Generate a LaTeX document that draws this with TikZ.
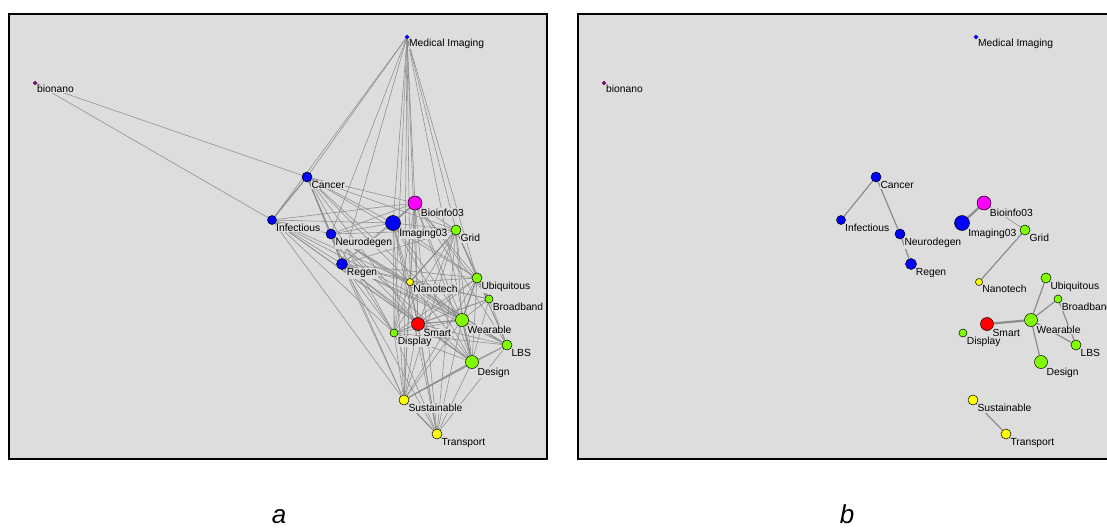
\documentclass[tikz,border=0pt]{standalone}
\usepackage{fontspec}
\setmainfont{Liberation Sans}
\usetikzlibrary{shapes.geometric,backgrounds}
\definecolor{panelgray}{RGB}{221,221,221}
\definecolor{edgegray}{RGB}{140,140,140}
\definecolor{netblue}{RGB}{0,0,255}
\definecolor{netgreen}{RGB}{128,255,0}
\definecolor{netyellow}{RGB}{255,255,0}
\definecolor{netred}{RGB}{255,0,0}
\definecolor{netpink}{RGB}{255,0,255}
\definecolor{netpurple}{RGB}{150,0,150}

\tikzset{
  vertex/.style={circle, draw=black, line width=0.5pt, inner sep=0pt, label distance=-1pt},
  lbl/.style={font=\fontsize{10.3}{11}\selectfont, inner sep=0.6pt, fill=panelgray},
  link/.style={edgegray, line width=0.55pt},
  midlink/.style={edgegray, line width=1.2pt},
  heavylink/.style={edgegray, line width=2.2pt},
  frame/.style={line width=2.2pt},
  caption/.style={font=\fontsize{26}{28}\itshape\selectfont, anchor=base, inner sep=0pt},
}

\newcommand\netnodes[1]{%
  \node[diamond, fill=netblue, inner sep=0pt, minimum size=5pt, label distance=-1pt,
    label={[lbl]-45:Medical Imaging}] (#1medimg) at (407,37) {};
  \node[vertex, fill=netpurple, draw=netpurple!60!black, minimum size=3.5pt,
    label={[lbl]-45:bionano}] (#1bionano) at (35,83) {};
  \foreach \nm/\x/\y/\r/\c/\t in {
      cancer/307/177/5/netblue/Cancer, infect/272/220/4.5/netblue/Infectious,
      neuro/331/234/5/netblue/Neurodegen, regen/342/264/5.5/netblue/Regen,
      imaging/393/223/7.5/netblue/Imaging03, bioinfo/415/203/7/netpink/Bioinfo03,
      grid/456/230/5/netgreen/Grid, nano/410/282/3.5/netyellow/Nanotech,
      ubiq/477/278/5/netgreen/Ubiquitous, broad/489/299/4/netgreen/Broadband,
      smart/418/324/6.5/netred/Smart, wear/462/320/6.5/netgreen/Wearable,
      display/394/333/4/netgreen/Display, lbs/507/345/5/netgreen/LBS,
      design/472/362/6.5/netgreen/Design, sustain/404/400/5/netyellow/Sustainable,
      transport/437/434/5/netyellow/Transport}
    \node[vertex, fill=\c, minimum size=2*\r*1pt, label={[lbl]-45:\t}] (#1\nm) at (\x,\y) {};
}

\begin{document}
\begin{tikzpicture}[x=1pt, y=-1pt]
\useasboundingbox (0,0) rectangle (1107,527);

\netnodes{a}
\begin{scope}[xshift=569]
  \netnodes{b}
\end{scope}

\begin{scope}[on background layer]
  \fill[panelgray] (9,14) rectangle (547,459);
  \fill[panelgray] (578,14) rectangle (1116,459);

  \foreach \s/\e in {medimg/cancer, medimg/infect, medimg/neuro, medimg/regen,
      medimg/imaging, medimg/bioinfo, medimg/nano, medimg/smart, medimg/display,
      medimg/sustain, medimg/grid, medimg/ubiq, medimg/design,
      bionano/cancer, bionano/infect,
      cancer/regen, cancer/imaging, cancer/bioinfo, cancer/grid, cancer/nano,
      cancer/smart, cancer/wear, cancer/display, cancer/ubiq,
      infect/neuro, infect/regen, infect/imaging, infect/bioinfo, infect/smart,
      infect/display, infect/sustain, infect/wear, infect/design, infect/nano,
      neuro/imaging, neuro/bioinfo, neuro/grid, neuro/nano, neuro/smart,
      neuro/display, neuro/wear, neuro/design, neuro/lbs, neuro/sustain,
      regen/imaging, regen/bioinfo, regen/grid, regen/nano, regen/smart,
      regen/wear, regen/design, regen/ubiq, regen/broad, regen/lbs,
      regen/sustain, regen/transport, regen/display,
      imaging/grid, imaging/nano, imaging/smart, imaging/display,
      imaging/sustain, imaging/transport, imaging/wear, imaging/design, imaging/ubiq,
      bioinfo/grid, bioinfo/nano, bioinfo/smart, bioinfo/display, bioinfo/sustain,
      bioinfo/transport, bioinfo/wear, bioinfo/design, bioinfo/ubiq,
      bioinfo/broad, bioinfo/lbs,
      grid/ubiq, grid/broad, grid/smart, grid/wear, grid/design, grid/lbs,
      grid/display, grid/sustain, grid/transport,
      nano/ubiq, nano/broad, nano/smart, nano/wear, nano/design, nano/display,
      nano/sustain, nano/transport, nano/lbs,
      ubiq/broad, ubiq/smart, ubiq/lbs, ubiq/design, ubiq/display, ubiq/sustain,
      broad/wear, broad/lbs, broad/design, broad/smart, broad/display,
      smart/display, smart/design, smart/lbs, smart/sustain, smart/transport,
      wear/lbs, wear/display, wear/sustain, wear/transport,
      display/design, display/sustain, display/transport, display/lbs,
      lbs/design, lbs/sustain, lbs/transport, design/transport}
    \draw[link] (a\s) -- (a\e);

  \foreach \s/\e in {cancer/infect, cancer/neuro, neuro/regen, imaging/bioinfo,
      grid/nano, smart/wear, wear/design, wear/ubiq, design/sustain,
      sustain/transport}
    \draw[midlink] (a\s) -- (a\e);

  \draw[link] (bbioinfo) -- (bgrid);
  \foreach \s/\e in {infect/cancer, cancer/neuro, neuro/regen, grid/nano,
      wear/ubiq, wear/broad, broad/lbs, wear/lbs, wear/design, sustain/transport}
    \draw[midlink] (b\s) -- (b\e);
  \foreach \s/\e in {imaging/bioinfo, smart/wear}
    \draw[heavylink] (b\s) -- (b\e);
\end{scope}

\draw[frame] (9,14) rectangle (547,459);
\draw[frame] (578,14) rectangle (1116,459);

\node[caption] (capa) at (279,523) {a};
\node[caption] (capb) at (847,523) {b};
\end{tikzpicture}
\end{document}
